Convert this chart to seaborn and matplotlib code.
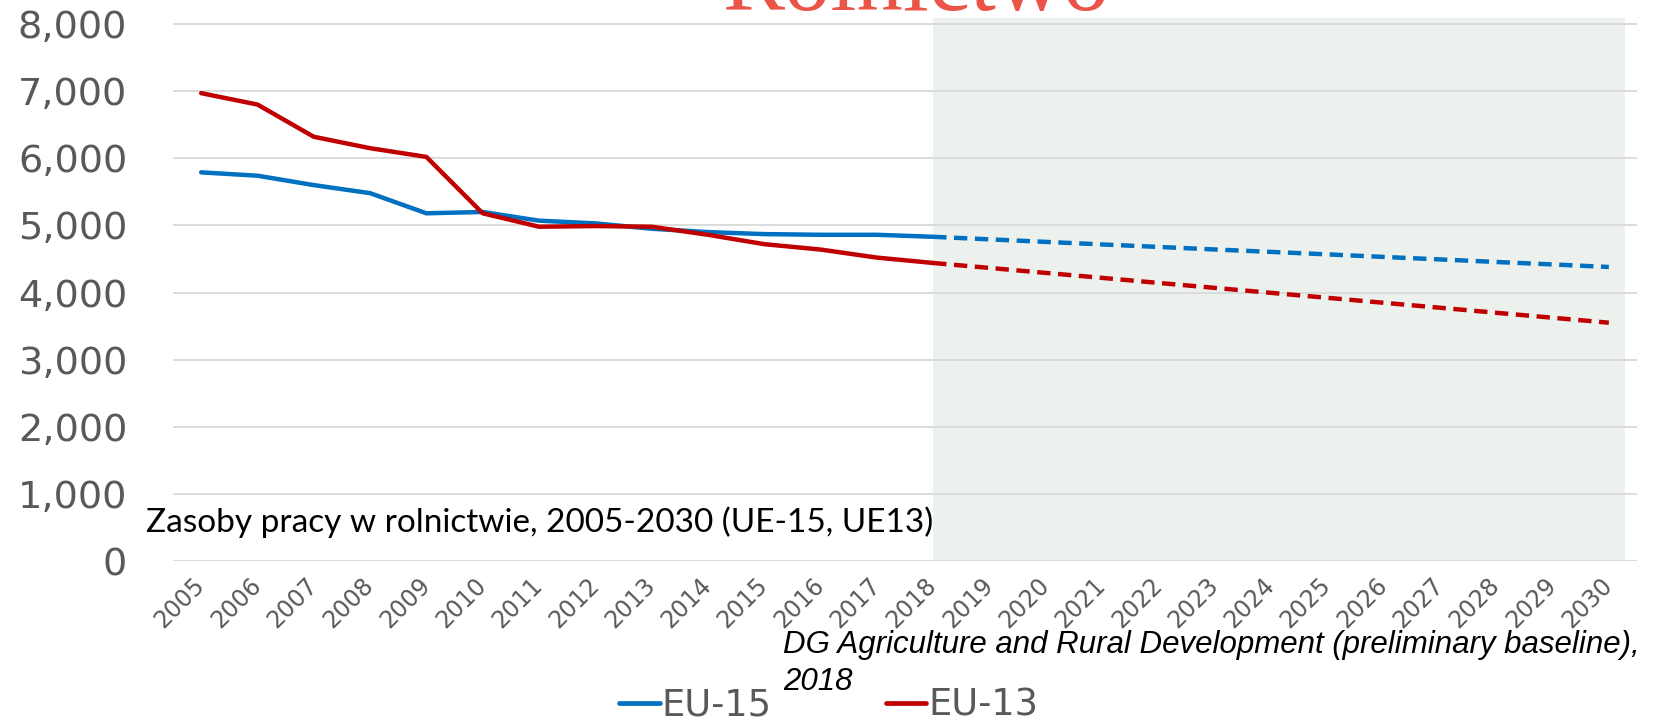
import matplotlib
matplotlib.use("Agg")
import matplotlib.pyplot as plt
import seaborn as sns
import pandas as pd
from matplotlib.lines import Line2D
from matplotlib.ticker import FuncFormatter

# ---- data ----
years_hist = [2005, 2006, 2007, 2008, 2009, 2010, 2011, 2012, 2013, 2014, 2015, 2016, 2017, 2018]
eu15_hist = [5790, 5740, 5600, 5480, 5180, 5200, 5070, 5030, 4950, 4900, 4870, 4860, 4860, 4830]
eu13_hist = [6970, 6800, 6320, 6150, 6020, 5180, 4980, 4990, 4980, 4860, 4720, 4640, 4520, 4440]

years_proj = [2018, 2019, 2020, 2021, 2022, 2023, 2024, 2025, 2026, 2027, 2028, 2029, 2030]
eu15_proj = [4830, 4792, 4754, 4716, 4679, 4641, 4605, 4568, 4530, 4493, 4455, 4418, 4380]
eu13_proj = [4440, 4366, 4292, 4218, 4143, 4069, 3995, 3921, 3847, 3773, 3698, 3624, 3550]

all_years = list(range(2005, 2031))
y_ticks = [0, 1000, 2000, 3000, 4000, 5000, 6000, 7000, 8000]

series_names = ["EU-15", "EU-13"]
colors = {"EU-15": "#0070C0", "EU-13": "#C00000"}

title_text = "Rolnictwo"
note_text = "Zasoby pracy w rolnictwie, 2005-2030 (UE-15, UE13)"
source_line1 = "DG Agriculture and Rural Development (preliminary baseline),"
source_line2 = "2018"

hist = pd.DataFrame({
    "year": years_hist * 2,
    "value": eu15_hist + eu13_hist,
    "series": ["EU-15"] * len(years_hist) + ["EU-13"] * len(years_hist),
})
proj = pd.DataFrame({
    "year": years_proj * 2,
    "value": eu15_proj + eu13_proj,
    "series": ["EU-15"] * len(years_proj) + ["EU-13"] * len(years_proj),
})

# ---- figure ----
sns.set_theme(style="white")
plt.rcParams["font.family"] = ["DejaVu Sans"]

fig = plt.figure(figsize=(16.69, 7.21), dpi=100)
ax = fig.add_axes([0.10366, 0.22191, 0.87717, 0.75271])

ax.axvspan(2018, 2030.28, color="#EDF1EE", zorder=0, lw=0)

for yv in y_ticks:
    ax.axhline(yv, color="#D9D9D9", lw=1.3, zorder=0.5)

sns.lineplot(data=hist, x="year", y="value", hue="series", palette=colors,
             hue_order=series_names, lw=3.2, ax=ax, legend=False, zorder=3,
             solid_capstyle="round", solid_joinstyle="round")
sns.lineplot(data=proj, x="year", y="value", hue="series", palette=colors,
             hue_order=series_names, lw=3.2, ax=ax, legend=False, zorder=3,
             dashes=False, linestyle=(0, (3.0, 1.7)))

ax.set_xlim(2004.5, 2030.5)
ax.set_ylim(0, 8085)
ax.set_xticks(all_years)
ax.set_xticklabels([str(y) for y in all_years], rotation=45, ha="right",
                   va="center", rotation_mode="anchor",
                   fontsize=17, color="#595959")
ax.set_yticks(y_ticks)
ax.yaxis.set_major_formatter(FuncFormatter(lambda v, p: f"{int(v):,}"))
ax.tick_params(axis="y", labelsize=27.5, labelcolor="#595959", length=0, pad=33)
ax.tick_params(axis="x", length=0, pad=15)
ax.set_xlabel("")
ax.set_ylabel("")
for s in ax.spines.values():
    s.set_visible(False)
ax.grid(False)
ax.set_facecolor("white")

# title (partially cut off at top, as in the original slide)
fig.text(0.5489, 0.9861, title_text, ha="center", va="baseline",
         fontsize=67, color="#EB5548", family=["Liberation Serif", "DejaVu Serif"])

# annotation
fig.text(0.0875, 0.2621, note_text, ha="left", va="baseline",
         fontsize=24, color="black", family=["Lato", "DejaVu Sans"])

# source
fig.text(0.4691, 0.0943, source_line1, ha="left", va="baseline",
         fontsize=22.5, style="italic", color="black",
         family=["Liberation Sans", "DejaVu Sans"])
fig.text(0.4691, 0.0430, source_line2, ha="left", va="baseline",
         fontsize=22.5, style="italic", color="black",
         family=["Liberation Sans", "DejaVu Sans"])

# legend
handles = [Line2D([0], [0], color=colors[n], lw=3.4) for n in series_names]
leg = fig.legend(handles, series_names, loc="center",
                 bbox_to_anchor=(0.4965, 0.022), ncol=2, frameon=False,
                 fontsize=26.5, handlelength=1.1, handletextpad=0.05,
                 columnspacing=3.1, borderpad=0, borderaxespad=0)
for t in leg.get_texts():
    t.set_color("#595959")

fig.savefig("out.png", dpi=100)
